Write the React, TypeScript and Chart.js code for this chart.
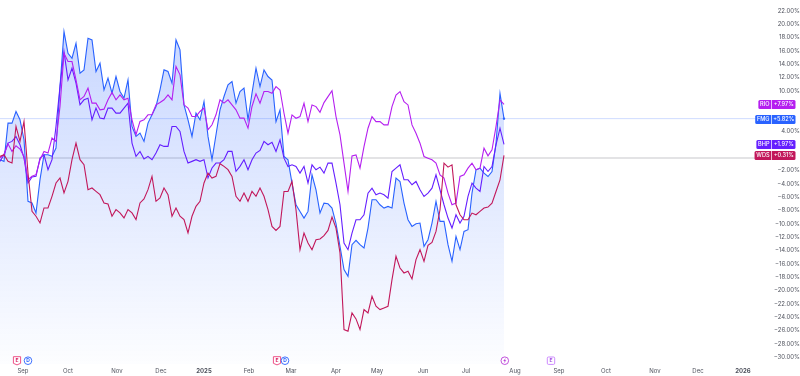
import React, { useEffect, useRef } from "react";
import { Chart, registerables } from "chart.js";

Chart.register(...registerables);

const fmg = [
  -0.35,-0.6,5.15,5.15,6.9,5.65,2.65,-6.6,-6.85,-8.35,
  -3.35,0.4,0.4,0.15,1.4,10.65,18.9,15.65,14.9,17.15,
  12.65,13.15,17.9,17.65,12.9,14.15,10.15,11.9,9.65,12.15,
  9.9,8.9,11.65,4.65,3.15,3.65,2.4,5.15,6.4,7.65,
  10.15,13.15,12.9,11.15,17.65,16.15,7.9,5.65,3.15,6.65,
  5.65,8.4,3.15,-0.35,3.4,7.15,9.15,10.9,11.4,8.15,
  9.9,10.4,5.65,9.65,13.4,10.65,13.15,12.15,
  11.63,5.38,7.13,0.13,-0.37,-3.87,-7.12,-8.12,-9.12,-8.12,
  -2.62,-4.87,-8.37,-6.87,-6.97,-7.62,-9.97,-13.37,-16.87,-17.87,
  -13.12,-12.47,-13.12,-13.62,-10.62,-6.37,-6.37,-7.12,-7.62,-7.37,
  -7.62,-3.12,-3.62,-6.87,-9.37,-10.37,-9.97,-9.87,-13.37,-12.37,
  -9.87,-6.62,-9.62,-9.62,-13.12,-15.62,-11.87,-13.87,-11.12,-10.87,
  -5.37,-1.87,-1.62,-2.37,-2.87,-2.12,2.13,9.63,5.82,
];
const rio = [
  -0.1,0.4,2.05,0.9,1.75,1.25,0.15,-3.35,-2.85,-2.6,
  -0.35,0.9,0.65,2.9,2.4,7.65,15.65,14.4,14.4,11.65,
  8.65,9.15,10.4,8.15,8.15,7.15,7.25,8.65,9.75,8.65,
  9.4,8.65,8.9,5.65,3.4,5.4,5.65,6.4,6.4,7.9,
  8.25,8.65,9.4,8.65,13.65,12.4,7.9,7.4,6.15,6.15,
  6.9,7.4,4.15,4.9,6.4,8.65,8.15,8.65,7.9,7.15,
  5.9,5.9,4.4,7.65,9.55,8.15,9.9,9.9,
  9.63,10.63,10.13,6.63,3.63,6.38,5.88,6.13,8.13,5.38,
  7.88,7.63,6.78,8.23,9.13,10.03,6.13,3.38,-0.87,-5.12,
  0.23,0.38,-1.62,1.63,4.38,6.13,5.38,5.38,4.88,4.88,
  7.63,9.38,9.88,8.38,7.88,4.88,3.63,2.13,0.13,-0.12,
  -0.37,-0.87,-2.62,-3.12,-5.37,-7.12,-6.87,-2.87,-2.62,-1.62,
  -0.87,-1.87,-1.62,1.38,0.23,1.13,4.63,8.63,7.97,
];
const bhp = [
  -0.6,0.4,2.15,2.4,3.15,1.9,-0.1,-3.85,-2.95,-2.85,
  -0.1,0.4,-1.85,-0.35,4.65,10.65,15.9,11.65,13.4,11.15,
  7.9,8.65,8.9,5.65,7.4,5.9,5.8,7.4,7.4,6.65,
  6.65,7.4,8.15,2.15,0.15,0.9,-0.25,0.15,-0.35,0.65,
  1.9,1.65,1.65,4.65,4.65,3.9,0.9,-0.85,-0.6,-0.35,
  -0.6,-0.35,-3.1,-1.6,-0.85,-0.85,-0.35,0.9,0.9,-2.1,
  -1.35,-0.35,-1.85,-0.35,0.65,1.05,2.4,1.9,
  2.28,0.88,2.63,-0.12,-1.37,-1.12,-1.37,-2.37,-1.37,-3.87,
  -1.12,-1.87,-1.47,-2.37,-0.87,-0.87,-3.87,-7.12,-12.87,-13.87,
  -11.37,-9.37,-9.37,-8.62,-5.37,-4.62,-5.62,-5.37,-5.62,-6.12,
  -2.12,-1.62,-1.12,-3.37,-3.37,-4.12,-3.62,-4.87,-5.87,-5.37,
  -4.62,-2.62,-4.87,-7.12,-9.12,-10.62,-8.62,-9.87,-8.87,-5.87,
  -3.87,-4.62,-5.12,-1.37,-2.12,-1.37,1.88,4.38,1.97,
];
const wds = [
  0.15,0.4,-0.6,-0.85,4.65,2.4,5.4,-2.35,-8.1,-8.85,
  -9.85,-7.6,-7.6,-5.85,-3.85,-3.1,-5.35,-3.6,-0.35,2.15,
  -0.35,-1.1,-4.85,-4.6,-5.1,-5.6,-6.85,-7,-8.85,-7.85,
  -8.35,-9.1,-7.85,-8.35,-9.35,-6.85,-6.25,-4.85,-2.85,-6.6,
  -6.1,-4.6,-5.6,-8.85,-7.6,-8.85,-9.35,-11.35,-8.85,-7.35,
  -6.6,-3.85,-2.35,-3.1,-2.85,-0.95,-1.35,-1.85,-2.85,-5.85,
  -6.6,-5.35,-6.6,-5.1,-5.85,-4.6,-5.85,-7.85,
  -10.37,-10.97,-10.37,-5.12,-5.12,-3.62,-7.87,-13.87,-11.37,-12.87,
  -13.87,-12.37,-12.27,-11.77,-10.97,-8.97,-10.62,-14.37,-25.87,-26.12,
  -23.37,-24.27,-25.87,-22.87,-23.37,-20.87,-22.37,-22.87,-22.62,-22.37,
  -18.37,-14.87,-16.62,-17.37,-17.12,-18.27,-15.37,-13.87,-15.62,-13.22,
  -12.77,-11.12,-7.87,-0.87,-1.47,-1.12,-7.12,-8.62,-9.37,-9.37,
  -8.37,-8.62,-8.12,-7.62,-7.47,-6.87,-5.12,-3.37,0.31,
];

const monthLabels = ["Sep","Oct","Nov","Dec","2025","Feb","Mar","Apr","May","Jun","Jul","Aug","Sep","Oct","Nov","Dec","2026"];
const monthPeriods = [5.75,17,29.25,40.25,51,62.25,72.75,84,94.25,105.75,116.5,128.75,139.75,151.5,163.75,174.5,185.75];
const yTicks = [22,20,18,16,14,12,10,4,-2,-4,-6,-8,-10,-12,-14,-16,-18,-20,-22,-24,-26,-28,-30];
const baseline = -0.08;

const seriesNames = ["RIO", "FMG", "BHP", "WDS"];
const seriesColors = ["#b51ff0", "#2962ff", "#651fff", "#c2185b"];
const seriesLast = [rio[rio.length - 1], fmg[fmg.length - 1], bhp[bhp.length - 1], wds[wds.length - 1]];

const events = [
  { at: 4.25, kind: "E" },
  { at: 7, kind: "D" },
  { at: 69.25, kind: "E" },
  { at: 71.25, kind: "D" },
  { at: 126.2, kind: "S" },
  { at: 137.75, kind: "N" },
];

const pts = (a: number[]) => a.map((y, i) => ({ x: i, y }));
const FONT = "Inter, 'Liberation Sans', sans-serif";
const fmtPct = (v: number) => (v < 0 ? "\u2212" : "") + Math.abs(v).toFixed(2) + "%";
const XMAX = 189.25;

const overlay = {
  id: "overlay",
  afterDatasetsDraw(chart: any) {
    const { ctx, scales } = chart;
    const y = scales.y;
    const x = scales.x;
    ctx.save();
    // last-value tags
    seriesNames.forEach((n, i) => {
      const v = seriesLast[i];
      const cy = Math.round(y.getPixelForValue(v)) + 0.5;
      const label = "+" + v.toFixed(2) + "%";
      ctx.font = `500 5.6px ${FONT}`;
      const right = 795.5;
      const vLeft = 772;
      const tw = ctx.measureText(n).width + 3.5;
      ctx.fillStyle = seriesColors[i];
      ctx.beginPath();
      ctx.roundRect(vLeft, cy - 4.5, right - vLeft, 9, [0, 1.5, 1.5, 0]);
      ctx.fill();
      ctx.beginPath();
      ctx.roundRect(vLeft - 0.7 - tw, cy - 4.5, tw, 9, [1.5, 0, 0, 1.5]);
      ctx.fill();
      ctx.fillStyle = "#ffffff";
      ctx.textBaseline = "middle";
      ctx.textAlign = "center";
      ctx.fillText(n, vLeft - 0.7 - tw / 2, cy + 0.3);
      ctx.fillText(label, (vLeft + right) / 2, cy + 0.3);
    });
    // event markers
    const cy = 360.7;
    ctx.lineWidth = 0.9;
    events.forEach((e) => {
      const cx = x.getPixelForValue(e.at);
      ctx.textAlign = "center";
      ctx.textBaseline = "middle";
      ctx.font = `700 5px ${FONT}`;
      if (e.kind === "E") {
        ctx.strokeStyle = "#ec407a";
        ctx.fillStyle = "#ffffff";
        ctx.beginPath();
        ctx.moveTo(cx - 3.6, cy - 4);
        ctx.lineTo(cx + 3.6, cy - 4);
        ctx.lineTo(cx + 3.6, cy + 2.6);
        ctx.lineTo(cx, cy + 4.2);
        ctx.lineTo(cx - 3.6, cy + 2.6);
        ctx.closePath();
        ctx.fill();
        ctx.stroke();
        ctx.fillStyle = "#d81b60";
        ctx.fillText("E", cx, cy - 0.4);
      } else if (e.kind === "D") {
        ctx.strokeStyle = "#2962ff";
        ctx.fillStyle = "#ffffff";
        ctx.beginPath();
        ctx.arc(cx, cy, 3.8, 0, Math.PI * 2);
        ctx.fill();
        ctx.stroke();
        ctx.fillStyle = "#2962ff";
        ctx.fillText("D", cx, cy + 0.2);
      } else if (e.kind === "S") {
        ctx.strokeStyle = "#ba3fd8";
        ctx.fillStyle = "#ffffff";
        ctx.beginPath();
        ctx.arc(cx, cy, 3.8, 0, Math.PI * 2);
        ctx.fill();
        ctx.stroke();
        ctx.fillStyle = "#ba3fd8";
        ctx.beginPath();
        ctx.moveTo(cx + 1, cy - 2.6);
        ctx.lineTo(cx - 1.6, cy + 0.4);
        ctx.lineTo(cx - 0.1, cy + 0.4);
        ctx.lineTo(cx - 1, cy + 2.6);
        ctx.lineTo(cx + 1.6, cy - 0.5);
        ctx.lineTo(cx + 0.1, cy - 0.5);
        ctx.closePath();
        ctx.fill();
      } else {
        ctx.strokeStyle = "#c77dff";
        ctx.fillStyle = "#ffffff";
        ctx.beginPath();
        ctx.roundRect(cx - 3.7, cy - 3.7, 7.4, 7.4, 1.2);
        ctx.fill();
        ctx.stroke();
        ctx.fillStyle = "#a04ee0";
        ctx.fillText("E", cx, cy + 0.2);
      }
    });
    ctx.restore();
  },
};

export default function App() {
  const ref = useRef<HTMLCanvasElement | null>(null);
  useEffect(() => {
    const canvas = ref.current!;
    const chart = new Chart(canvas, {
      type: "line",
      data: {
        datasets: [
          {
            data: [{ x: 0, y: fmg[fmg.length - 1] }, { x: XMAX, y: fmg[fmg.length - 1] }],
            borderColor: "#cfdcff",
            borderWidth: 1,
            pointRadius: 0,
            fill: false,
            order: 9,
          },
          {
            data: [{ x: 0, y: baseline }, { x: XMAX, y: baseline }],
            borderColor: "#e3e3e5",
            borderWidth: 2,
            pointRadius: 0,
            fill: false,
            order: 8,
          },
          {
            label: "FMG",
            data: pts(fmg),
            borderColor: seriesColors[1],
            borderWidth: 1.1,
            pointRadius: (c: any) => (c.dataIndex === fmg.length - 1 ? 1.2 : 0),
            pointBackgroundColor: seriesColors[1],
            pointBorderWidth: 0,
            tension: 0,
            fill: "start",
            backgroundColor: (c: any) => {
              const a = c.chart.chartArea;
              if (!a) return "rgba(41,98,255,0.1)";
              const g = c.chart.ctx.createLinearGradient(0, 25, 0, a.bottom);
              g.addColorStop(0, "rgba(41,98,255,0.26)");
              g.addColorStop(1, "rgba(41,98,255,0.01)");
              return g;
            },
            order: 5,
          },
          { label: "RIO", data: pts(rio), borderColor: seriesColors[0], borderWidth: 1.1, pointRadius: 0, fill: false, order: 3 },
          { label: "BHP", data: pts(bhp), borderColor: seriesColors[2], borderWidth: 1.1, pointRadius: 0, fill: false, order: 4 },
          { label: "WDS", data: pts(wds), borderColor: seriesColors[3], borderWidth: 1.1, pointRadius: 0, fill: false, order: 2 },
        ],
      },
      options: {
        responsive: false,
        animation: false,
        events: [],
        layout: { padding: 0, autoPadding: false },
        plugins: { legend: { display: false }, tooltip: { enabled: false } },
        scales: {
          x: {
            type: "linear",
            min: 0,
            max: XMAX,
            grid: { display: false, drawTicks: false },
            border: { display: false },
            afterBuildTicks: (s: any) => {
              s.ticks = monthPeriods.map((value) => ({ value }));
            },
            afterFit: (s: any) => {
              s.height = 12;
              s.paddingLeft = 0;
              s.paddingRight = 0;
            },
            ticks: {
              autoSkip: false,
              maxRotation: 0,
              padding: 4,
              color: "#50535e",
              font: (c: any) => ({
                family: FONT,
                size: 6,
                weight: /^20/.test(monthLabels[c.index] || "") ? "700" : "400",
              }),
              callback: (_v: any, i: number) => monthLabels[i],
            },
          },
          y: {
            type: "linear",
            position: "right",
            min: -31.05,
            max: 23.65,
            grid: { display: false, drawTicks: false },
            border: { display: false },
            afterBuildTicks: (s: any) => {
              s.ticks = yTicks.map((value) => ({ value }));
            },
            afterFit: (s: any) => {
              s.width = 43;
              s.paddingTop = 0;
              s.paddingBottom = 0;
            },
            ticks: {
              autoSkip: false,
              crossAlign: "far",
              padding: 9,
              color: "#50535e",
              font: { family: FONT, size: 6 },
              callback: (v: any) => fmtPct(Number(v)),
            },
          },
        },
      },
      plugins: [overlay],
    } as any);
    return () => chart.destroy();
  }, []);
  return (
    <div style={{ position: "fixed", left: 0, top: 0, width: 800, height: 376, background: "#fff" }}>
      <canvas ref={ref} width={800} height={376} style={{ display: "block" }} />
    </div>
  );
}
